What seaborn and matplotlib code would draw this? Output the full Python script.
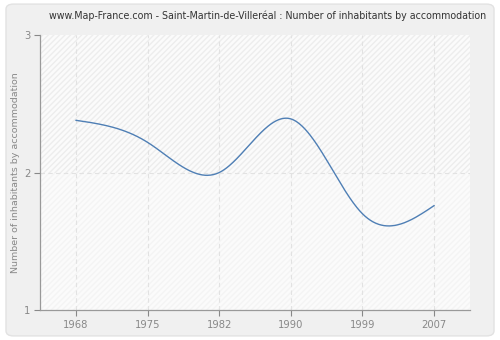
import numpy as np
import pandas as pd
import matplotlib
matplotlib.use("Agg")
import matplotlib.pyplot as plt
from matplotlib.patches import FancyBboxPatch, Rectangle
import seaborn as sns

years = ["1968", "1975", "1982", "1990", "1999", "2007"]
values = [2.38, 2.22, 2.00, 2.39, 1.70, 1.76]
yticks = [1, 2, 3]
title = "www.Map-France.com - Saint-Martin-de-Villeréal : Number of inhabitants by accommodation"
ylabel = "Number of inhabitants by accommodation"


def natural_spline(x, y, n=400):
    x = np.asarray(x, float); y = np.asarray(y, float)
    k = len(x)
    h = np.diff(x)
    A = np.zeros((k, k)); b = np.zeros(k)
    A[0, 0] = A[-1, -1] = 1
    for i in range(1, k - 1):
        A[i, i - 1] = h[i - 1]
        A[i, i] = 2 * (h[i - 1] + h[i])
        A[i, i + 1] = h[i]
        b[i] = 3 * ((y[i + 1] - y[i]) / h[i] - (y[i] - y[i - 1]) / h[i - 1])
    c = np.linalg.solve(A, b)
    xs = np.linspace(x[0], x[-1], n)
    ys = np.empty_like(xs)
    for j, xv in enumerate(xs):
        i = min(np.searchsorted(x, xv, side="right") - 1, k - 2)
        d = xv - x[i]
        bb = (y[i + 1] - y[i]) / h[i] - h[i] * (2 * c[i] + c[i + 1]) / 3
        dd = (c[i + 1] - c[i]) / (3 * h[i])
        ys[j] = y[i] + bb * d + c[i] * d ** 2 + dd * d ** 3
    return xs, ys


sns.set_theme(style="white")
plt.rcParams['font.family'] = ['DejaVu Sans']

fig = plt.figure(figsize=(5, 3.4), dpi=100)
fig.patch.set_facecolor("white")
panel = FancyBboxPatch((0.012, 0.012), 0.976, 0.976, boxstyle="round,pad=0,rounding_size=0.015",
                       transform=fig.transFigure, facecolor="#f0f0f0", edgecolor="#e2e2e2",
                       linewidth=1, zorder=-10)
fig.patches.append(panel)

ax = fig.add_axes([0.08, 0.088, 0.86, 0.809])
ax.set_facecolor("#fbfbfb")

idx = np.arange(len(years))
xs, ys = natural_spline(idx, values)
df = pd.DataFrame({"x": xs, "y": ys})
sns.lineplot(data=df, x="x", y="y", ax=ax, color="#4f7fb5", linewidth=1.0, zorder=5)

ax.set_xlim(-0.5, len(years) - 0.5)
ax.set_ylim(1, 3)

# hatch background
ax.add_patch(Rectangle((-0.5, 2), len(years), 1, facecolor="none", edgecolor="#ededed",
                       hatch="//////", linewidth=0, zorder=0))
ax.add_patch(Rectangle((-0.5, 1), len(years), 1, facecolor="none", edgecolor="#f4f4f4",
                       hatch="//////", linewidth=0, zorder=0))

ax.set_xticks(idx)
ax.set_xticklabels(years)
ax.set_yticks(yticks)
ax.set_yticklabels([str(t) for t in yticks])
ax.tick_params(axis="both", colors="#888888", labelsize=7.2, length=4, width=0.8,
               direction="out", bottom=True, left=True, pad=3)
for lab in ax.get_xticklabels() + ax.get_yticklabels():
    lab.set_color("#888888")

ax.grid(True, axis="x", color="#e2e2e2", linestyle=(0, (4, 3)), linewidth=0.8, zorder=1)
ax.axhline(2, color="#e2e2e2", linestyle=(0, (4, 3)), linewidth=0.8, zorder=1)

for s in ["top", "right"]:
    ax.spines[s].set_visible(False)
for s in ["left", "bottom"]:
    ax.spines[s].set_color("#999999")
    ax.spines[s].set_linewidth(0.9)

ax.set_xlabel("")
ax.set_ylabel(ylabel, color="#888888", fontsize=6.8, labelpad=3)
fig.text(0.536, 0.953, title, ha="center", va="center", fontsize=6.85, color="#333333")

fig.savefig("out.png", dpi=100, facecolor=fig.get_facecolor())
